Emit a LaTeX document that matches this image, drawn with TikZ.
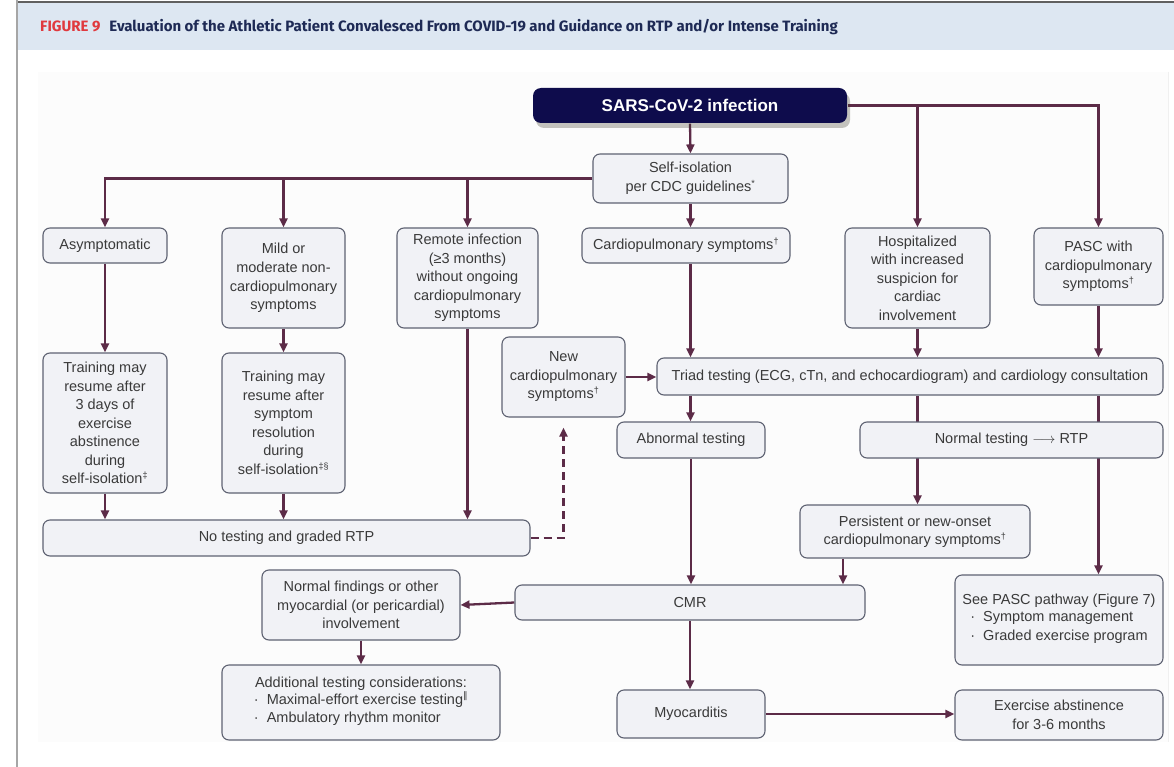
\documentclass[tikz,border=0pt]{standalone}
\usepackage{fontspec}
\setmainfont{Liberation Sans}
\newfontfamily\titlefont{Fira Sans}
\newfontfamily\dejavu{DejaVu Sans}
\usetikzlibrary{arrows.meta,shadows,calc}
\definecolor{arr}{HTML}{5C2B47}
\definecolor{boxdraw}{HTML}{5E6272}
\definecolor{boxfill}{HTML}{F1F2F6}
\definecolor{txt}{HTML}{3A3A3A}
\definecolor{navy}{HTML}{0E0C4C}
\definecolor{headbg}{HTML}{DDE7F2}
\definecolor{figred}{HTML}{E0393E}
\definecolor{titleblue}{HTML}{1E2A55}
\definecolor{panel}{HTML}{FCFCFC}
\newcommand\fnm[1]{\textsuperscript{\fontsize{9}{9}\selectfont #1}}
\pgfdeclarelayer{back}
\pgfdeclarelayer{conn}
\pgfsetlayers{back,conn,main}
\tikzset{
  box/.style={draw=boxdraw, fill=boxfill, rounded corners=7pt, line width=1.1pt,
    align=center, text=txt, inner sep=2pt,
    font=\fontsize{14.5}{18.5}\selectfont},
  conn/.style={draw=arr, line width=2.3pt},
  arrow/.style={conn, -{Triangle[length=9pt,width=8pt]}},
}
\begin{document}
\begin{tikzpicture}[x=1pt,y=-1pt]
\useasboundingbox (0,0) rectangle (1174,767);
\begin{pgfonlayer}{back}
\fill[white] (0,0) rectangle (1174,767);
\fill[panel] (38,72) rectangle (1168,742);
\draw[gray!12, line width=0.8pt] (1168,72) -- (1168,742);
% header
\fill[headbg] (17,3) rectangle (1174,50);
\draw[gray!75!black, line width=1.5pt] (17,2) -- (1174,2);
\draw[gray!70, line width=1.5pt] (17,0) -- (17,767);
\end{pgfonlayer}
\node[anchor=west, inner sep=0pt, font=\titlefont\bfseries\fontsize{15}{17}\selectfont] (title) at (40,27)
  {\textcolor{figred}{FIGURE 9}\hspace{9pt}\textcolor{titleblue}{Evaluation of the Athletic Patient Convalesced From COVID-19 and Guidance on RTP and/or Intense Training}};

% nodes
\node[box, draw=none, fill=navy, text=white, rounded corners=8pt,
  font=\bfseries\fontsize{17}{20}\selectfont, minimum width=314pt, minimum height=35pt,
  drop shadow={shadow xshift=3pt, shadow yshift=-5pt, opacity=0.3, fill=black!70!olive}] (sars) at (690,105.5) {SARS-CoV-2 infection};
\node[box, minimum width=195pt, minimum height=49pt] (selfiso) at (690.5,178.5) {Self-isolation\\per CDC guidelines\fnm{*}};
\node[box, minimum width=124pt, minimum height=35pt] (asym) at (105,245.5) {Asymptomatic};
\node[box, minimum width=123pt, minimum height=100pt] (mild) at (283.5,278) {Mild or\\moderate non-\\cardiopulmonary\\symptoms};
\node[box, minimum width=141pt, minimum height=100pt] (remote) at (467.5,278) {Remote infection\\(≥3 months)\\without ongoing\\cardiopulmonary\\symptoms};
\node[box, minimum width=208pt, minimum height=35pt] (cardsym) at (686,245.5) {Cardiopulmonary symptoms\fnm{†}};
\node[box, minimum width=145pt, minimum height=100pt] (hosp) at (917.5,278) {Hospitalized\\with increased\\suspicion for\\cardiac\\involvement};
\node[box, minimum width=129pt, minimum height=77pt] (pasc) at (1098.5,266.5) {PASC with\\cardiopulmonary\\symptoms\fnm{†}};
\node[box, minimum width=124pt, minimum height=140pt] (train1) at (105,423) {Training may\\resume after\\3 days of\\exercise\\abstinence\\during\\self-isolation\fnm{‡}};
\node[box, minimum width=123pt, minimum height=140pt] (train2) at (283.5,423) {Training may\\resume after\\symptom\\resolution\\during\\self-isolation\fnm{‡§}};
\node[box, minimum width=123pt, minimum height=80pt] (newcard) at (563.5,377) {New\\cardiopulmonary\\symptoms\fnm{†}};
\node[box, minimum width=506pt, minimum height=37pt] (triad) at (910,376.5) {Triad testing (ECG, cTn, and echocardiogram) and cardiology consultation};
\node[box, minimum width=148pt, minimum height=36pt] (abn) at (691,440) {Abnormal testing};
\node[box, minimum width=303pt, minimum height=36pt] (normal) at (1011.5,440) {Normal testing $\longrightarrow$ RTP};
\node[box, minimum width=487pt, minimum height=36pt] (notest) at (286.5,538) {No testing and graded RTP};
\node[box, minimum width=230pt, minimum height=53pt] (persist) at (915,531.5) {Persistent or new-onset\\cardiopulmonary symptoms\fnm{†}};
\node[box, minimum width=350pt, minimum height=35pt] (cmr) at (690,602.5) {CMR};
\node[box, minimum width=208pt, minimum height=90pt] (seepasc) at (1059,620) {See PASC pathway (Figure 7)\\\begin{tabular}{@{}l@{}}·\ \ Symptom management\\·\ \ Graded exercise program\end{tabular}};
\node[box, minimum width=198pt, minimum height=70pt] (normfind) at (361,605) {Normal findings or other\\myocardial (or pericardial)\\involvement};
\node[box, minimum width=278pt, minimum height=75pt] (addtest) at (361,702.5) {Additional testing considerations:\\\begin{tabular}{@{}l@{}}·\ \ Maximal-effort exercise testing\fnm{\dejavu ‖}\\·\ \ Ambulatory rhythm monitor\end{tabular}};
\node[box, minimum width=148pt, minimum height=48pt] (myo) at (691,714) {Myocarditis};
\node[box, minimum width=208pt, minimum height=50pt] (exabs) at (1059,715) {Exercise abstinence\\for 3-6 months};

% connectors
\begin{pgfonlayer}{conn}
\draw[arrow] (sars.south) -- (selfiso.north);
\draw[arrow] (sars.east) -| (pasc.north);
\draw[arrow] (sars.east -| hosp.north) -- (hosp.north);
\draw[arrow] (selfiso.west) -| (asym.north);
\draw[arrow] (selfiso.west -| mild.north) -- (mild.north);
\draw[arrow] (selfiso.west -| remote.north) -- (remote.north);
\draw[arrow] (selfiso.south) -- (selfiso.south |- cardsym.north);
\draw[arrow] (selfiso.south |- cardsym.south) -- (selfiso.south |- triad.north);
\draw[arrow] (hosp.south) -- (hosp.south |- triad.north);
\draw[arrow] (pasc.south) -- (pasc.south |- triad.north);
\draw[arrow] (newcard.east) -- (triad.west |- newcard.east);
\draw[arrow] (selfiso.south |- triad.south) -- (selfiso.south |- abn.north);
\draw[arrow] (hosp.south |- triad.south) -- (hosp.south |- persist.north);
\draw[arrow] (pasc.south |- triad.south) -- (pasc.south |- seepasc.north);
\draw[arrow] (asym.south) -- (train1.north);
\draw[arrow] (mild.south) -- (train2.north);
\draw[arrow] (train1.south) -- (train1.south |- notest.north);
\draw[arrow] (train2.south) -- (train2.south |- notest.north);
\draw[arrow] (remote.south) -- (remote.south |- notest.north);
\draw[arrow, line width=2.6pt, dash pattern=on 8pt off 5pt, shorten >=10pt] (notest.east) -| (newcard.south);
\coordinate (pl) at ([xshift=-72pt]persist.south);
\draw[arrow] (abn.south) -- (abn.south |- cmr.north);
\draw[arrow] (pl) -- (pl |- cmr.north);
\draw[arrow] (cmr.west) -- (normfind.east);
\draw[arrow] (normfind.south) -- (addtest.north);
\draw[arrow] (cmr.south) -- (cmr.south |- myo.north);
\draw[arrow] (myo.east) -- (exabs.west |- myo.east);
\end{pgfonlayer}
\end{tikzpicture}
\end{document}
